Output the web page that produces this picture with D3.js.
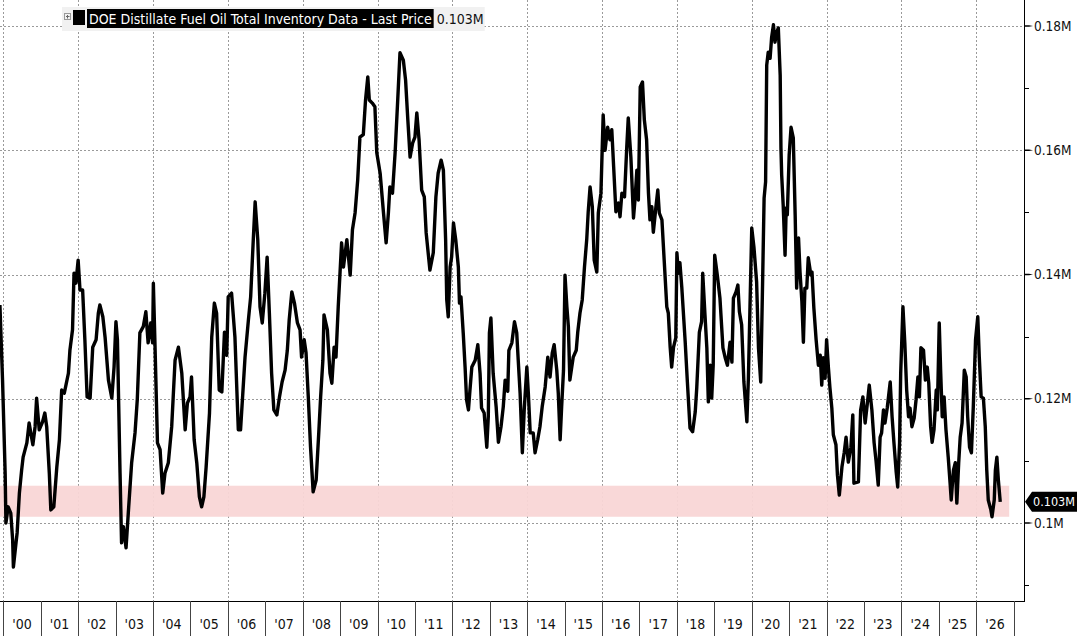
<!DOCTYPE html>
<html>
<head>
<meta charset="utf-8">
<script src="https://cdn.jsdelivr.net/npm/d3@7"></script>
<style>
  body { margin: 0; background: #fff; }
  svg { display: block; font-family: "Liberation Sans Narrow", "Arial Narrow", "DejaVu Sans Condensed", sans-serif; }
  .grid line { stroke: #9a9a9a; stroke-dasharray: 2,2; stroke-width: 1; }
  .yLabel { font-size: 13.5px; fill: #111; }
  .xLabel { font-size: 14px; fill: #111; }
</style>
</head>
<body>
<div id="chart"></div>
<script>

/// data: decimal year + inventory (mln bbl)

const dates = [
1999.91,1999.98,2000.05,2000.07,2000.13,2000.20,2000.25,2000.27,2000.34,2000.37,
2000.43,2000.49,2000.53,2000.63,2000.69,2000.79,2000.85,2000.89,2000.96,2001.05,
2001.11,2001.16,2001.23,2001.27,2001.35,2001.43,2001.50,2001.56,2001.63,2001.74,
2001.78,2001.85,2001.89,2001.94,2002.00,2002.05,2002.12,2002.18,2002.24,2002.32,
2002.39,2002.48,2002.54,2002.58,2002.66,2002.72,2002.81,2002.90,2002.96,2003.01,
2003.05,2003.12,2003.16,2003.21,2003.28,2003.34,2003.43,2003.52,2003.58,2003.65,
2003.74,2003.81,2003.87,2003.94,2003.99,2004.01,2004.05,2004.12,2004.19,2004.26,
2004.32,2004.41,2004.50,2004.59,2004.68,2004.77,2004.86,2004.92,2004.99,2005.03,
2005.10,2005.17,2005.24,2005.30,2005.36,2005.42,2005.51,2005.57,2005.64,2005.70,
2005.77,2005.84,2005.91,2005.97,2006.01,2006.10,2006.19,2006.28,2006.34,2006.46,
2006.55,2006.61,2006.68,2006.73,2006.80,2006.86,2006.92,2006.99,2007.05,2007.11,
2007.17,2007.23,2007.31,2007.38,2007.45,2007.53,2007.59,2007.64,2007.71,2007.78,
2007.86,2007.93,2007.97,2008.04,2008.09,2008.15,2008.21,2008.28,2008.36,2008.43,
2008.48,2008.54,2008.57,2008.66,2008.73,2008.78,2008.84,2008.89,2008.95,2009.04,
2009.09,2009.18,2009.27,2009.33,2009.40,2009.47,2009.53,2009.62,2009.68,2009.74,
2009.78,2009.86,2009.93,2009.98,2010.07,2010.16,2010.23,2010.29,2010.33,2010.40,
2010.47,2010.54,2010.60,2010.69,2010.75,2010.81,2010.87,2010.94,2011.00,2011.05,
2011.11,2011.18,2011.25,2011.30,2011.40,2011.49,2011.56,2011.62,2011.70,2011.76,
2011.82,2011.85,2011.89,2011.94,2011.98,2012.03,2012.09,2012.16,2012.19,2012.23,
2012.29,2012.34,2012.38,2012.43,2012.47,2012.52,2012.61,2012.68,2012.74,2012.78,
2012.85,2012.92,2012.96,2012.99,2013.03,2013.09,2013.17,2013.23,2013.30,2013.36,
2013.41,2013.48,2013.51,2013.59,2013.66,2013.72,2013.76,2013.81,2013.87,2013.92,
2013.99,2014.03,2014.08,2014.16,2014.21,2014.28,2014.34,2014.40,2014.48,2014.55,
2014.61,2014.67,2014.72,2014.79,2014.83,2014.88,2014.92,2014.97,2015.01,2015.06,
2015.10,2015.14,2015.23,2015.31,2015.35,2015.41,2015.47,2015.53,2015.59,2015.63,
2015.68,2015.74,2015.79,2015.86,2015.90,2015.97,2016.03,2016.08,2016.15,2016.21,
2016.26,2016.31,2016.37,2016.44,2016.48,2016.53,2016.60,2016.66,2016.70,2016.77,
2016.84,2016.88,2016.93,2016.97,2017.02,2017.08,2017.13,2017.19,2017.24,2017.28,
2017.33,2017.37,2017.44,2017.49,2017.53,2017.60,2017.66,2017.73,2017.77,2017.82,
2017.86,2017.91,2017.97,2018.00,2018.04,2018.08,2018.13,2018.22,2018.28,2018.35,
2018.42,2018.49,2018.53,2018.60,2018.66,2018.69,2018.75,2018.80,2018.84,2018.89,
2018.93,2018.97,2019.01,2019.08,2019.15,2019.23,2019.29,2019.35,2019.42,2019.47,
2019.51,2019.58,2019.63,2019.67,2019.73,2019.79,2019.87,2019.91,2019.95,2020.00,
2020.06,2020.13,2020.18,2020.24,2020.29,2020.33,2020.37,2020.40,2020.44,2020.49,
2020.53,2020.58,2020.62,2020.67,2020.71,2020.76,2020.78,2020.80,2020.84,2020.89,
2020.92,2020.95,2021.00,2021.05,2021.11,2021.16,2021.20,2021.25,2021.29,2021.34,
2021.38,2021.42,2021.47,2021.51,2021.58,2021.61,2021.66,2021.72,2021.78,2021.83,
2021.87,2021.91,2021.96,2022.00,2022.05,2022.09,2022.14,2022.18,2022.25,2022.29,
2022.34,2022.41,2022.47,2022.52,2022.58,2022.65,2022.70,2022.73,2022.85,2022.91,
2022.97,2023.03,2023.09,2023.14,2023.21,2023.27,2023.32,2023.38,2023.43,2023.47,
2023.52,2023.56,2023.62,2023.70,2023.75,2023.80,2023.86,2023.90,2023.95,2023.98,
2024.04,2024.09,2024.14,2024.19,2024.23,2024.28,2024.34,2024.39,2024.44,2024.48,
2024.52,2024.59,2024.64,2024.69,2024.73,2024.78,2024.82,2024.87,2024.93,2024.96,
2025.01,2025.05,2025.09,2025.14,2025.19,2025.25,2025.30,2025.33,2025.39,2025.44,
2025.48,2025.53,2025.57,2025.62,2025.68,2025.73,2025.77,2025.82,2025.87,2025.92,
2025.98,2026.04,2026.08,2026.13,2026.19,2026.24,2026.28,2026.32,2026.39,2026.42,
2026.48,2026.51,2026.55,2026.59,2026.64
];

const inventory = [
135.1,123.0,108.0,100.0,102.6,101.6,97.3,92.9,96.8,98.4,
104.8,108.5,110.6,112.9,116.1,112.6,115.5,120.1,115.0,116.3,
117.7,115.5,108.0,102.1,102.6,109.0,113.4,121.4,120.9,124.1,
127.8,131.1,140.2,138.6,142.3,137.5,137.5,129.5,120.3,120.1,
128.3,129.5,133.8,135.1,133.2,129.9,123.0,120.1,125.1,132.4,
129.5,108.0,96.8,99.4,96.0,101.6,109.7,114.5,119.8,130.6,
131.6,134.0,129.0,132.2,129.0,138.6,129.5,112.9,111.8,104.8,
108.0,109.7,115.5,126.2,128.3,124.1,115.0,119.3,120.3,123.5,
113.4,109.7,104.2,102.6,104.2,109.0,117.7,129.9,135.4,133.8,
121.4,121.1,130.7,127.0,136.4,137.0,129.9,115.0,115.0,126.7,
132.7,136.4,145.6,151.7,145.6,134.8,132.2,137.0,142.8,133.8,
124.1,118.2,117.4,120.3,122.7,124.6,127.8,132.7,137.2,135.4,
132.2,131.1,126.7,129.5,127.4,120.3,112.2,105.0,106.9,114.5,
120.3,126.2,133.5,131.1,124.1,122.5,128.3,126.7,134.8,145.1,
141.2,145.6,139.9,147.2,149.9,155.2,162.1,162.5,168.1,171.8,
168.1,167.6,167.0,159.6,156.3,149.9,145.1,149.9,154.1,153.1,
159.6,168.1,175.7,174.5,171.3,164.9,158.9,161.2,162.1,166.0,
161.7,153.6,152.5,146.7,140.7,143.5,152.5,156.3,158.4,156.8,
145.6,135.9,133.2,141.2,142.8,148.3,145.6,141.2,135.4,136.4,
130.6,125.1,119.8,118.2,121.4,125.1,126.2,128.7,124.1,118.5,
117.7,112.2,117.1,130.6,133.0,124.1,118.7,113.0,115.5,118.7,
123.0,121.2,127.8,129.0,132.4,130.6,126.2,120.9,111.3,118.2,
125.1,120.9,114.5,114.5,111.3,113.4,115.5,118.7,121.9,126.7,
123.5,127.4,128.7,124.6,120.9,113.4,118.7,124.6,139.9,134.8,
131.6,123.0,126.7,127.8,130.7,133.8,135.9,141.2,145.6,150.1,
154.1,150.9,142.3,140.4,149.9,153.1,165.7,160.0,163.7,161.7,
163.3,157.3,150.1,151.5,149.3,153.1,152.5,160.5,165.2,158.9,
149.1,152.0,156.8,152.0,170.2,171.0,164.9,161.7,153.1,148.8,
150.9,146.8,150.9,153.6,149.9,148.8,142.3,134.8,133.8,128.3,
125.1,128.3,129.8,143.5,140.2,141.9,138.0,129.3,122.7,115.3,
114.7,117.9,121.7,130.7,132.4,140.2,133.5,128.2,119.5,125.4,
120.1,125.4,143.1,139.9,136.2,128.2,126.6,125.4,129.1,125.9,
136.2,137.2,138.3,134.0,131.9,122.7,116.3,123.3,134.0,147.5,
144.3,138.8,128.2,122.7,138.8,152.3,154.9,173.7,175.8,174.8,
178.1,180.2,177.4,179.0,179.7,172.1,160.4,156.0,151.2,143.1,
150.7,149.6,159.2,163.7,162.0,149.6,137.8,145.9,140.4,135.6,
129.1,137.8,137.8,142.7,139.9,140.4,134.6,129.5,125.4,127.0,
122.2,126.6,123.3,129.5,124.9,121.7,118.5,114.2,112.6,107.7,
104.5,109.0,111.3,113.8,109.8,112.2,117.4,106.4,106.6,118.2,
120.3,116.1,119.3,122.2,118.2,112.9,110.1,106.1,113.8,114.5,
118.2,116.1,118.5,122.7,117.1,112.9,108.2,105.8,112.9,124.1,
134.8,129.0,121.4,117.1,118.5,115.5,116.9,119.8,123.5,120.3,
128.2,127.8,123.0,125.1,122.5,115.5,113.0,115.0,121.4,118.2,
132.2,124.1,117.1,120.3,115.0,110.6,106.4,103.7,108.5,109.7,
103.2,109.7,113.8,116.1,124.6,123.5,117.1,112.2,111.3,118.7,
129.5,133.2,126.7,120.3,120.1,115.5,108.5,103.7,102.1,101.0,
103.7,108.5,110.6,106.9,103.4
];

// right axis: labelled majors, unlabelled minors
const yMajor = [100, 120, 140, 160, 180];
const yMinor = [90, 110, 130, 150, 170];

// year slots on the bottom axis
const years = d3.range(2000, 2027);
const gridYears = d3.range(2000, 2027, 2);

// the shaded low-inventory band
const bandLow = 101.0, bandHigh = 106.0, bandEnd = 2026.88;

const seriesName = "DOE Distillate Fuel Oil Total Inventory Data - Last Price";
const lastValue = inventory[inventory.length - 1];

///////////////////////////////////////////////////////////////////////////////

const width = 1077, height = 636;
const plotRight = 1024, plotBottom = 601;

const svg = d3.select("#chart").append("svg")
  .attr("width", width)
  .attr("height", height);

let x = d3.scaleLinear()
  .domain([1999.912, 2027.275])
  .range([0, plotRight]);

let y = d3.scaleLinear()
  .domain([87.44, 184.19])
  .range([plotBottom, 0]);

const fmtM = v => (v / 1000) + "M";

// gridlines
let grid = svg.append("g").attr("class", "grid");

grid.selectAll("line.h")
  .data(yMajor)
  .enter().append("line")
  .attr("class", "h")
  .attr("x1", 0).attr("x2", plotRight)
  .attr("y1", d => Math.round(y(d)) + 0.5)
  .attr("y2", d => Math.round(y(d)) + 0.5);

grid.selectAll("line.v")
  .data(gridYears)
  .enter().append("line")
  .attr("class", "v")
  .attr("x1", d => Math.round(x(d)) + 0.5)
  .attr("x2", d => Math.round(x(d)) + 0.5)
  .attr("y1", 0).attr("y2", plotBottom);

// pink band
svg.append("rect")
  .attr("x", x.range()[0])
  .attr("width", x(bandEnd) - x.range()[0])
  .attr("y", y(bandHigh))
  .attr("height", y(bandLow) - y(bandHigh))
  .style("fill", "#f9d6d6")
  .style("opacity", 0.95);

// the line
svg.append("clipPath").attr("id", "plotClip")
  .append("rect").attr("x", 0).attr("y", 0).attr("width", plotRight).attr("height", plotBottom);

const line = d3.line()
  .x((d, i) => x(dates[i]))
  .y(d => y(d));

svg.append("path")
  .datum(inventory)
  .attr("clip-path", "url(#plotClip)")
  .attr("d", line)
  .style("fill", "none")
  .style("stroke", "#000")
  .style("stroke-width", 3.4)
  .style("stroke-linejoin", "round");

// right axis
svg.append("line")
  .attr("x1", plotRight + 0.5).attr("x2", plotRight + 0.5)
  .attr("y1", 0).attr("y2", plotBottom + 0.5)
  .style("stroke", "#000");

svg.selectAll("path.majorTick")
  .data(yMajor)
  .enter().append("path")
  .attr("class", "majorTick")
  .attr("d", d => {
    let yy = y(d);
    return `M${plotRight},${yy - 0.8}L${plotRight + 5},${yy - 0.8}L${plotRight + 9},${yy}L${plotRight + 5},${yy + 0.8}L${plotRight},${yy + 0.8}Z`;
  })
  .style("fill", "#000");

svg.selectAll("line.minorTick")
  .data(yMinor)
  .enter().append("line")
  .attr("class", "minorTick")
  .attr("x1", plotRight).attr("x2", plotRight + 5)
  .attr("y1", d => Math.round(y(d)) + 0.5)
  .attr("y2", d => Math.round(y(d)) + 0.5)
  .style("stroke", "#000");

svg.selectAll("text.yLabel")
  .data(yMajor)
  .enter().append("text")
  .attr("class", "yLabel")
  .attr("x", plotRight + 10)
  .attr("y", d => y(d))
  .attr("dy", "0.35em")
  .text(fmtM);

// last price tag
let tagY = y(lastValue);
svg.append("path")
  .attr("d", `M${plotRight + 1},${tagY}L${plotRight + 8},${tagY - 10}L${width},${tagY - 10}L${width},${tagY + 10}L${plotRight + 8},${tagY + 10}Z`)
  .style("fill", "#000");

svg.append("text")
  .attr("x", plotRight + 9)
  .attr("y", tagY)
  .attr("dy", "0.35em")
  .style("font-size", "12.5px")
  .style("fill", "#fff")
  .text(d3.format(".3f")(lastValue / 1000) + "M");

// bottom axis
svg.append("line")
  .attr("x1", 0).attr("x2", plotRight + 1)
  .attr("y1", plotBottom + 0.5).attr("y2", plotBottom + 0.5)
  .style("stroke", "#000");

svg.selectAll("line.yearSep")
  .data(years.concat([2027]))
  .enter().append("line")
  .attr("class", "yearSep")
  .attr("x1", d => Math.round(x(d)) + 0.5)
  .attr("x2", d => Math.round(x(d)) + 0.5)
  .attr("y1", plotBottom)
  .attr("y2", height)
  .style("stroke", "#444");

svg.selectAll("text.xLabel")
  .data(years)
  .enter().append("text")
  .attr("class", "xLabel")
  .attr("x", d => x(d + 0.5))
  .attr("y", 629)
  .style("text-anchor", "middle")
  .text(d => "'" + String(d).slice(2));

// legend
let legend = svg.append("g").attr("transform", "translate(62,7)");

let legendText = legend.append("text")
  .attr("x", 27)
  .attr("y", 16.5)
  .style("font-size", "14px")
  .style("fill", "#fff")
  .text(seriesName);

let tw = legendText.node().getComputedTextLength();

legend.insert("rect", "text")
  .attr("x", 0).attr("y", 0)
  .attr("width", tw + 80).attr("height", 24)
  .style("fill", "#f1f1f1");

legend.insert("rect", "text")
  .attr("x", 25).attr("y", 2)
  .attr("width", tw + 4).attr("height", 19)
  .style("fill", "#000");

legend.append("rect")
  .attr("x", 11).attr("y", 3)
  .attr("width", 12).attr("height", 15)
  .style("fill", "#000");

legend.append("rect")
  .attr("x", 2.5).attr("y", 6.5)
  .attr("width", 6).attr("height", 6)
  .style("fill", "none")
  .style("stroke", "#999");

legend.append("line")
  .attr("x1", 4).attr("x2", 7.5).attr("y1", 9.5).attr("y2", 9.5)
  .style("stroke", "#666");

legend.append("line")
  .attr("x1", 5.5).attr("x2", 5.5).attr("y1", 8).attr("y2", 11.5)
  .style("stroke", "#666");

legend.append("text")
  .attr("x", 27 + tw + 5)
  .attr("y", 16.5)
  .style("font-size", "14px")
  .style("fill", "#111")
  .text(d3.format(".3f")(lastValue / 1000) + "M");

</script>
</body>
</html>
